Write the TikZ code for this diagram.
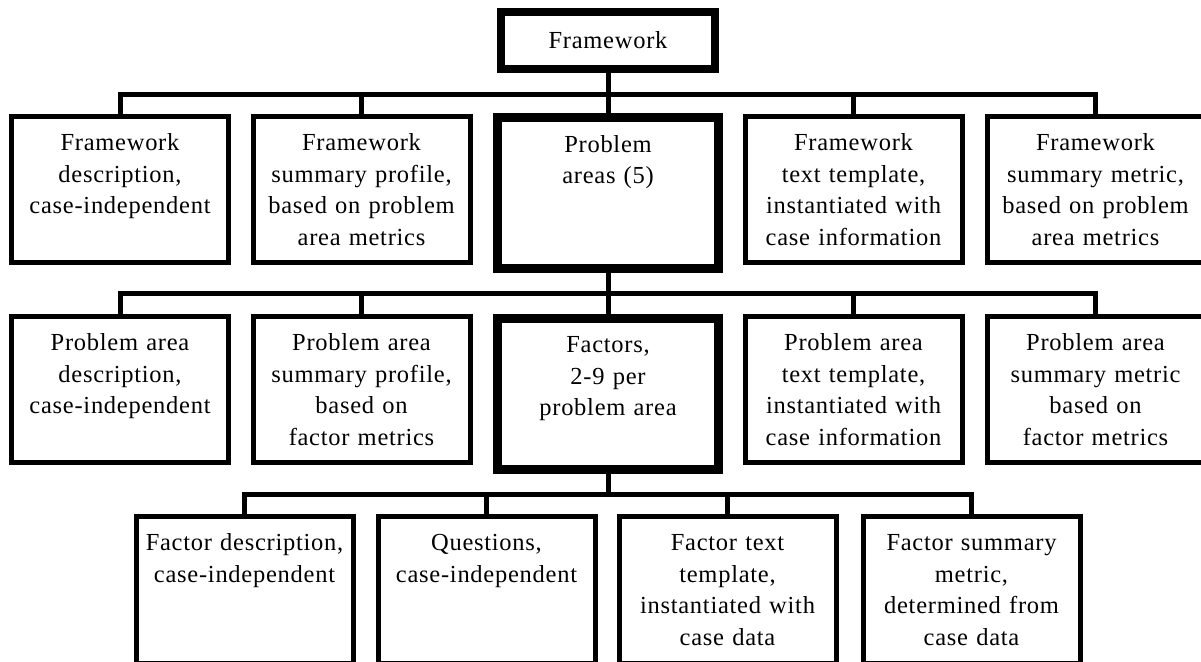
\documentclass[tikz,border=0pt]{standalone}
\usepackage{fontspec}
\setmainfont[LetterSpace=3]{Liberation Serif}
\usetikzlibrary{positioning}

\begin{document}
\begin{tikzpicture}[x=1pt,y=1pt]
\tikzstyle{every node}+=[inner sep=0pt]
\tikzstyle{plain box}=[draw, line width=5pt, fill=white, minimum width=217pt,
  text width=210pt, align=center, font=\fontsize{24.5}{31.7}\selectfont,
  text height=34pt, text depth=112pt]
\tikzstyle{heavy box}=[plain box, line width=9pt, minimum width=221pt,
  text height=34.5pt, text depth=116.5pt]
\tikzstyle{link}=[line width=5pt]
\useasboundingbox (0,0) rectangle (1201,-661);
\node [draw, line width=8pt, fill=white, minimum width=214pt, minimum height=57pt,
  font=\fontsize{24.5}{31.7}\selectfont] (fw) at (608,-40.5) {Framework};
\node [plain box] (fwdesc) at (120,-189.5) {Framework\\description,\\case-independent};
\node [plain box] (fwprof) at (361.5,-189.5) {Framework\\summary profile,\\based on problem\\area metrics};
\node [heavy box] (pa) at (608,-193) {Problem\\areas (5)};
\node [plain box] (fwtmpl) at (853.5,-189.5) {Framework\\text template,\\instantiated with\\case information};
\node [plain box] (fwmet) at (1095.5,-189.5) {Framework\\summary metric,\\based on problem\\area metrics};
\node [plain box] (padesc) at (120,-389.5) {Problem area\\description,\\case-independent};
\node [plain box] (paprof) at (361.5,-389.5) {Problem area\\summary profile,\\based on\\factor metrics};
\node [heavy box] (fa) at (608,-393.5) {Factors,\\2-9 per\\problem area};
\node [plain box] (patmpl) at (853.5,-389.5) {Problem area\\text template,\\instantiated with\\case information};
\node [plain box] (pamet) at (1095.5,-389.5) {Problem area\\summary metric\\based on\\factor metrics};
\node [plain box, text depth=113pt] (fadesc) at (244.5,-590) {Factor description,\\case-independent};
\node [plain box, text depth=113pt] (faques) at (486.5,-590) {Questions,\\case-independent};
\node [plain box, text depth=113pt] (fatmpl) at (727.5,-590) {Factor text\\template,\\instantiated with\\case data};
\node [plain box, text depth=113pt] (famet) at (971.5,-590) {Factor summary\\metric,\\determined from\\case data};
\coordinate (j1) at (608,-94);
\coordinate (j2) at (608,-293.5);
\coordinate (j3) at (608,-494);
\draw [link] (fw.south) -- (j1) -- (pa.north);
\draw [link] (fwdesc.north) |- (j1) -| (fwmet.north);
\draw [link] (fwprof.north) -- (fwprof.north |- j1);
\draw [link] (fwtmpl.north) -- (fwtmpl.north |- j1);
\draw [link] (pa.south) -- (j2) -- (fa.north);
\draw [link] (padesc.north) |- (j2) -| (pamet.north);
\draw [link] (paprof.north) -- (paprof.north |- j2);
\draw [link] (patmpl.north) -- (patmpl.north |- j2);
\draw [link] (fa.south) -- (j3);
\draw [link] (fadesc.north) |- (j3) -| (famet.north);
\draw [link] (faques.north) -- (faques.north |- j3);
\draw [link] (fatmpl.north) -- (fatmpl.north |- j3);
\end{tikzpicture}
\end{document}
